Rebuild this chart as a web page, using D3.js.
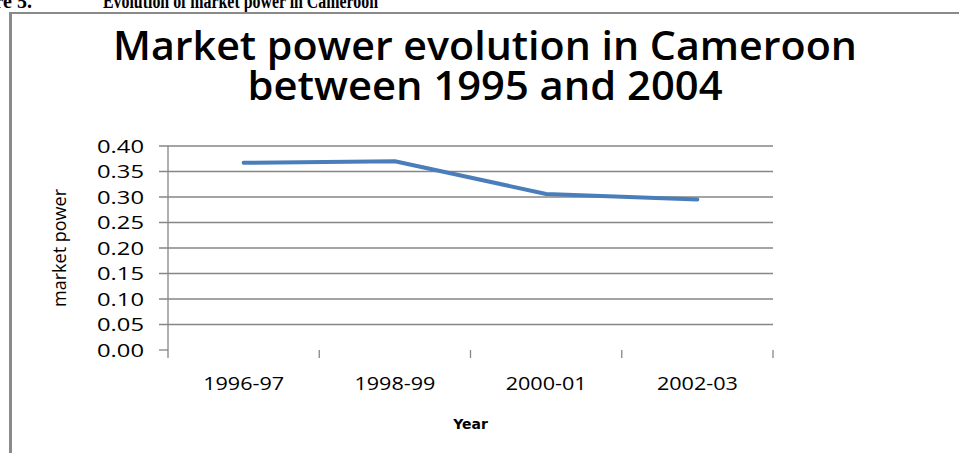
<!DOCTYPE html>
<html>
<head>
<meta charset="utf-8">
<script src="https://cdn.jsdelivr.net/npm/d3@7"></script>
<style>
  html, body { margin: 0; padding: 0; background: #fff; }
  svg { display: block; }
</style>
</head>
<body>
<svg id="chart" width="959" height="453"></svg>
<script>
const categories = ["1996-97", "1998-99", "2000-01", "2002-03"];
const marketPower = [0.367, 0.370, 0.306, 0.295];
const yTicks = [0, 0.05, 0.10, 0.15, 0.20, 0.25, 0.30, 0.35, 0.40];
const titleLines = ["Market power evolution in Cameroon", "between 1995 and 2004"];
const captionLead = "Figure 5.";
const captionText = "Evolution of market power in Cameroon";
const yTitle = "market power";
const xTitle = "Year";

(function () {
const svg = d3.select("#chart");
const W = 959, H = 453;
svg.append("rect").attr("width", W).attr("height", H).attr("fill", "#fff");

// cropped figure caption at top
svg.append("text").attr("x", 32).attr("y", 7.5).attr("text-anchor", "end")
  .attr("font-family", "Liberation Serif, Times New Roman, serif").attr("font-weight", "bold")
  .attr("font-size", 20).attr("fill", "#000").text(captionLead);
svg.append("text").attr("x", 103).attr("y", 7.5)
  .attr("font-family", "Liberation Serif, Times New Roman, serif").attr("font-weight", "bold")
  .attr("font-size", 20).attr("fill", "#000")
  .attr("textLength", 275).attr("lengthAdjust", "spacingAndGlyphs").text(captionText);

// frame
svg.append("line").attr("x1", 9).attr("x2", W).attr("y1", 13).attr("y2", 13)
  .attr("stroke", "#8a8a8a").attr("stroke-width", 2);
svg.append("line").attr("x1", 10.5).attr("x2", 10.5).attr("y1", 12).attr("y2", H)
  .attr("stroke", "#8a8a8a").attr("stroke-width", 3);

// title
const titleWidths = [744, 475];
const titleY = [60, 100];
titleLines.forEach((t, i) => {
  svg.append("text").attr("x", 485).attr("y", titleY[i]).attr("text-anchor", "middle")
    .attr("font-family", "Open Sans, Lato, sans-serif").attr("font-weight", 600)
    .attr("font-size", 40).attr("fill", "#000")
    .attr("textLength", titleWidths[i]).attr("lengthAdjust", "spacingAndGlyphs").text(t);
});

const pLeft = 168, pRight = 773, pTop = 146, pBottom = 350;
const x = d3.scaleBand().domain(categories).range([pLeft, pRight]).padding(0);
const y = d3.scaleLinear().domain([0, 0.4]).range([pBottom, pTop]);

// gridlines (skip 0)
svg.append("g").selectAll("line").data(yTicks.filter(d => d > 0)).join("line")
  .attr("x1", pLeft - 9).attr("x2", pRight)
  .attr("y1", d => y(d)).attr("y2", d => y(d))
  .attr("stroke", "#868686").attr("stroke-width", 1.3);
svg.append("line").attr("x1", pLeft - 9).attr("x2", pLeft).attr("y1", y(0)).attr("y2", y(0))
  .attr("stroke", "#868686").attr("stroke-width", 1.3);

// y axis line
svg.append("line").attr("x1", pLeft).attr("x2", pLeft).attr("y1", pTop).attr("y2", pBottom + 8)
  .attr("stroke", "#868686").attr("stroke-width", 1.3);

// x ticks at band boundaries
const bounds = categories.map(c => x(c) + x.bandwidth());
svg.append("g").selectAll("line").data(bounds).join("line")
  .attr("x1", d => d).attr("x2", d => d).attr("y1", pBottom).attr("y2", pBottom + 8)
  .attr("stroke", "#868686").attr("stroke-width", 1.3);

// y tick labels
svg.append("g").selectAll("text").data(yTicks).join("text")
  .attr("x", 144).attr("y", d => y(d) + 6.5).attr("text-anchor", "end")
  .attr("font-family", "Open Sans, sans-serif").attr("font-size", 17.5).attr("fill", "#000")
  .attr("textLength", 47).attr("lengthAdjust", "spacingAndGlyphs")
  .text(d => d3.format(".2f")(d));

// x tick labels
svg.append("g").selectAll("text").data(categories).join("text")
  .attr("x", d => x(d) + x.bandwidth() / 2).attr("y", 390).attr("text-anchor", "middle")
  .attr("font-family", "Open Sans, sans-serif").attr("font-size", 17.5).attr("fill", "#000")
  .attr("textLength", 81).attr("lengthAdjust", "spacingAndGlyphs")
  .text(d => d);

// axis titles
svg.append("text").attr("transform", "translate(66,248) rotate(-90)").attr("text-anchor", "middle")
  .attr("font-family", "Open Sans, sans-serif").attr("font-size", 18).attr("fill", "#000")
  .attr("textLength", 118).attr("lengthAdjust", "spacingAndGlyphs").text(yTitle);
svg.append("text").attr("x", (pLeft + pRight) / 2).attr("y", 429).attr("text-anchor", "middle")
  .attr("font-family", "DejaVu Sans, sans-serif").attr("font-weight", "bold")
  .attr("font-size", 14).attr("fill", "#000").text(xTitle);

// line
const line = d3.line().x((d, i) => x(categories[i]) + x.bandwidth() / 2).y(d => y(d));
svg.append("path").datum(marketPower).attr("d", line)
  .attr("fill", "none").attr("stroke", "#4a7ebb").attr("stroke-width", 4)
  .attr("stroke-linecap", "round").attr("stroke-linejoin", "round");
})();
</script>
</body>
</html>
